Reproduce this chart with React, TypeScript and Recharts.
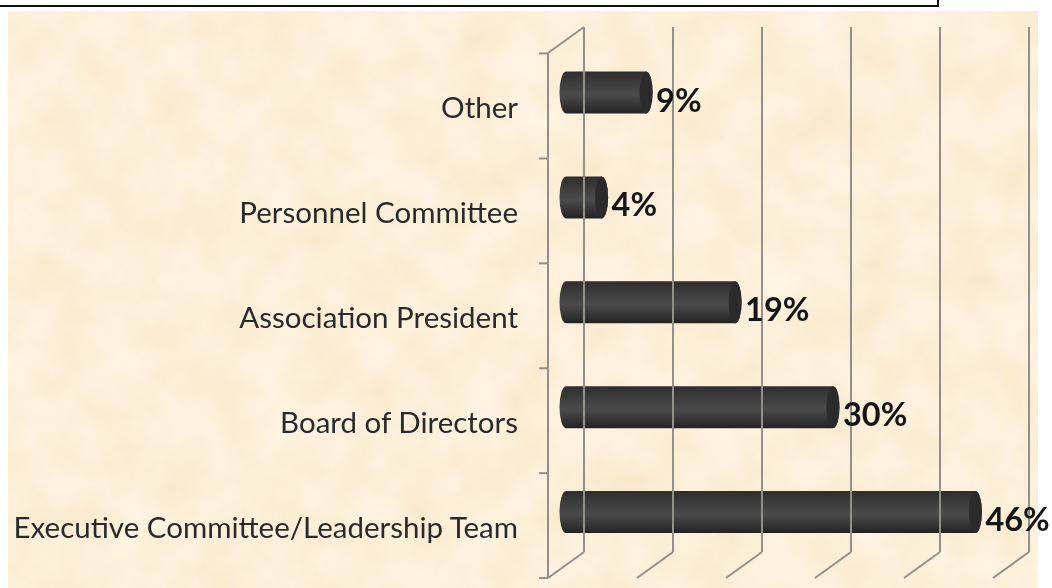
import { BarChart, Bar, XAxis, YAxis, LabelList } from 'recharts';

const categories = ['Other', 'Personnel Committee', 'Association President', 'Board of Directors', 'Executive Committee/Leadership Team'];
const percentages = [9, 4, 19, 30, 46];
const valueTicks = [0, 10, 20, 30, 40, 50];

const data = categories.map((name, i) => ({ name, value: percentages[i] }));

const GRID = '#93908a';
const DEPTH_X = 18;
const DEPTH_Y = 13;
const BAND = 105;

// gridline of the 3D wall: back vertical plus the floor diagonal
const WallTick = (props: any) => {
    const { x, index } = props;
    const top = 27;
    const bottom = 552;
    return (
        <g stroke={GRID} strokeWidth={2} fill="none">
            <line x1={x + DEPTH_X} y1={top} x2={x + DEPTH_X} y2={bottom} />
            <line x1={x + DEPTH_X} y1={bottom} x2={x - DEPTH_X} y2={bottom + 2 * DEPTH_Y} />
            {index === 0 && <line x1={x + DEPTH_X} y1={top} x2={x - DEPTH_X} y2={top + 2 * DEPTH_Y} />}
        </g>
    );
};

const CategoryTick = (props: any) => {
    const { x, y, payload, index } = props;
    const front = x - DEPTH_X;
    const segTop = y - BAND / 2 + DEPTH_Y;
    const segBottom = y + BAND / 2 + DEPTH_Y;
    return (
        <g>
            <g stroke={GRID} strokeWidth={2}>
                <line x1={front} y1={segTop} x2={front} y2={segBottom} />
                <line x1={front - 9} y1={segBottom} x2={front} y2={segBottom} />
                {index === 0 && <line x1={front - 9} y1={segTop} x2={front} y2={segTop} />}
            </g>
            <text x={x - 48} y={y + 25} textAnchor="end" fontFamily="Lato" fontSize={29.5} fill="#2a2a2a">
                {payload.value}
            </text>
        </g>
    );
};

const Cylinder = (props: any) => {
    const { x, y, width, height } = props;
    const rx = 6.5;
    const ry = height / 2;
    const body = `M${x},${y} L${x + width},${y} A${rx},${ry} 0 0 1 ${x + width},${y + height} L${x},${y + height} A${rx},${ry} 0 0 1 ${x},${y} Z`;
    return (
        <g>
            <path d={body} fill="url(#cyl)" />
            <ellipse cx={x + width} cy={y + ry} rx={rx} ry={ry} fill="#2b2b2b" />
        </g>
    );
};

const PercentLabel = (props: any) => {
    const { x, y, width, height, value } = props;
    return (
        <text x={x + width + 10} y={y + height / 2 + 19} fontFamily="Lato" fontWeight={700} fontSize={32.5} fill="#161616">
            {value}%
        </text>
    );
};

export default function App() {
    return (
        <div style={{ position: 'absolute', left: 0, top: 0, width: 1052, height: 588, background: '#fff', overflow: 'hidden' }}>
            {/* parchment background */}
            <svg width={1052} height={588} style={{ position: 'absolute', left: 0, top: 0 }}>
                <defs>
                    <filter id="parchment" x="0" y="0" width="100%" height="100%" colorInterpolationFilters="sRGB">
                        <feTurbulence type="fractalNoise" baseFrequency="0.02" numOctaves={4} seed={7} />
                        <feColorMatrix values="0.03 0 0 0 0.975  0.06 0 0 0 0.91  0.13 0 0 0 0.785  0 0 0 0 1" />
                    </filter>
                </defs>
                <rect x={8} y={11} width={1030} height={577} filter="url(#parchment)" />
            </svg>
            {/* box left over from the slide above the chart */}
            <div style={{ position: 'absolute', left: -4, top: -4, width: 939, height: 7, border: '2px solid #111', background: '#fff' }} />
            <div style={{ position: 'absolute', left: 0, top: 0, filter: 'blur(0.5px)' }}>
                <BarChart
                    width={1052}
                    height={588}
                    data={data}
                    layout="vertical"
                    barSize={42}
                    margin={{ top: 40.5, right: 41, bottom: 0, left: 0 }}
                >
                    <defs>
                        <linearGradient id="cyl" x1="0" y1="0" x2="0" y2="1">
                            <stop offset="0%" stopColor="#2e2e2e" />
                            <stop offset="55%" stopColor="#4b4b4b" />
                            <stop offset="100%" stopColor="#232323" />
                        </linearGradient>
                    </defs>
                    <XAxis
                        type="number"
                        domain={[0, 50]}
                        ticks={valueTicks}
                        height={23}
                        axisLine={false}
                        tickLine={false}
                        tickSize={0}
                        tick={<WallTick />}
                    />
                    <YAxis
                        type="category"
                        dataKey="name"
                        width={566}
                        axisLine={false}
                        tickLine={false}
                        tickSize={0}
                        tickMargin={0}
                        interval={0}
                        tick={<CategoryTick />}
                    />
                    <Bar dataKey="value" shape={<Cylinder />} isAnimationActive={false}>
                        <LabelList dataKey="value" content={<PercentLabel />} />
                    </Bar>
                </BarChart>
            </div>
        </div>
    );
}
